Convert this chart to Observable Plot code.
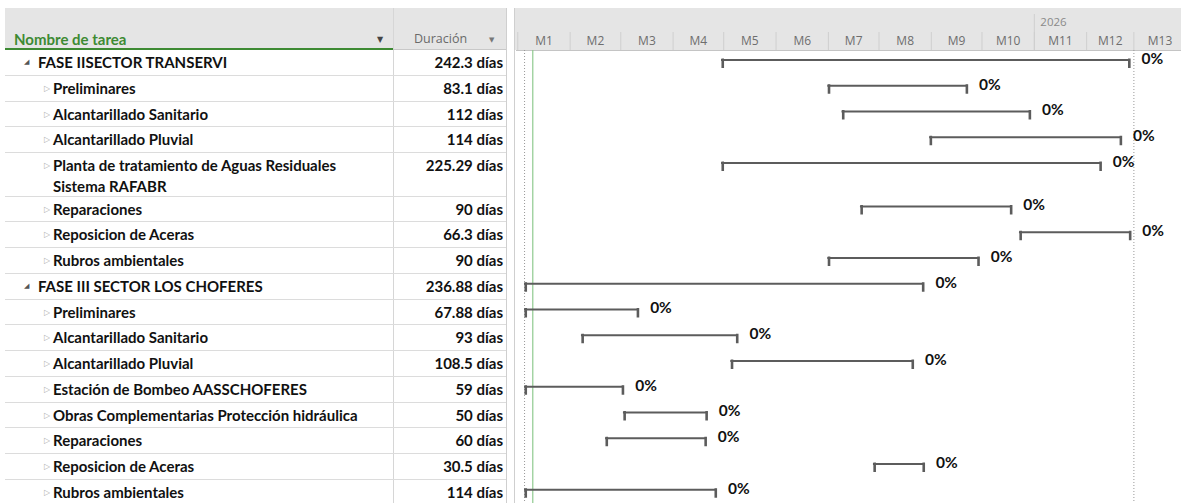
<!DOCTYPE html>
<html><head><meta charset="utf-8">
<script src="https://cdn.jsdelivr.net/npm/d3@7"></script>
<script src="https://cdn.jsdelivr.net/npm/@observablehq/plot@0.6"></script>
<style>
body{margin:0;background:#fff;}
#wrap{position:relative;width:1181px;height:503px;overflow:hidden;font-family:Lato,"Open Sans",sans-serif;}
.abs{position:absolute;white-space:nowrap;}
.row{position:absolute;left:5px;width:501px;box-sizing:border-box;border-bottom:1px solid #dcdcdc;}
.nm{position:absolute;font-weight:700;font-size:15px;color:#111;line-height:21px;top:2px;white-space:pre;}
.ic0{position:absolute;left:19px;top:2px;font-family:"DejaVu Sans";font-size:7px;line-height:21px;color:#555;}
.ic1{position:absolute;left:39px;top:2px;font-family:"DejaVu Sans";font-size:8px;line-height:21px;color:#b0b0b0;}
.du{position:absolute;right:3px;top:2px;font-weight:700;font-size:15px;line-height:21px;color:#111;}
#gantt{position:absolute;left:516px;top:0;}
</style></head><body><div id="wrap"></div>
<script>
// ---- data ----
const names = [
  "FASE IISECTOR TRANSERVI",
  "Preliminares",
  "Alcantarillado Sanitario",
  "Alcantarillado Pluvial",
  "Planta de tratamiento de Aguas Residuales\nSistema RAFABR",
  "Reparaciones",
  "Reposicion de Aceras",
  "Rubros ambientales",
  "FASE III SECTOR LOS CHOFERES",
  "Preliminares",
  "Alcantarillado Sanitario",
  "Alcantarillado Pluvial",
  "Estación de Bombeo AASSCHOFERES",
  "Obras Complementarias Protección hidráulica",
  "Reparaciones",
  "Reposicion de Aceras",
  "Rubros ambientales"
];
const levels = [0,1,1,1,1,1,1,1,0,1,1,1,1,1,1,1,1];
const durations = [242.3, 83.1, 112, 114, 225.29, 90, 66.3, 90, 236.88, 67.88, 93, 108.5, 59, 50, 60, 30.5, 114];
const starts = [
  "2025-06-29T17:00Z", "2025-08-31T16:00Z", "2025-09-09T02:00Z", "2025-10-31T00:00Z",
  "2025-06-29T17:00Z", "2025-09-20T00:00Z", "2025-12-23T05:00Z", "2025-08-31T16:00Z",
  "2025-03-05T00:00Z", "2025-03-05T00:00Z", "2025-04-07T17:00Z", "2025-07-05T05:00Z",
  "2025-03-05T00:00Z", "2025-05-02T14:00Z", "2025-04-22T00:00Z", "2025-09-27T17:00Z",
  "2025-03-05T00:00Z"
];
const completes = [0,0,0,0,0,0,0,0,0,0,0,0,0,0,0,0,0];
const monthLabels = ["M1","M2","M3","M4","M5","M6","M7","M8","M9","M10","M11","M12","M13"];
const monthStarts = ["2025-03-01","2025-04-01","2025-05-01","2025-06-01","2025-07-01","2025-08-01","2025-09-01","2025-10-01","2025-11-01","2025-12-01","2026-01-01","2026-02-01","2026-03-01","2026-04-01"];
const yearLabels = ["2026"];
const yearStarts = ["2026-01-01"];
const viewStart = "2025-02-28T05:30Z";
const viewEnd = "2026-03-29T05:00Z";
const projectStart = "2025-03-05T00:00Z";
const statusDate = "2025-03-09T21:00Z";
const finishLine = "2026-03-01T00:00Z";
const headerTitles = ["Nombre de tarea", "Duración"];

// ---- layout ----
const ROW_H = 25.75, HEAD = 50, WRAP_H = 43.5;
const DAY = 864e5;
let acc = 0;
const tasks = names.map((n, i) => {
  const lines = n.split("\n").length;
  const h = lines > 1 ? WRAP_H : ROW_H;
  const top = acc; acc += h;
  const start = new Date(starts[i]);
  return {
    name: n, level: levels[i], dur: durations[i], pct: completes[i],
    start, end: new Date(+start + durations[i] * DAY),
    topPx: top, hPx: h,
    barY: (top + 9.5) / ROW_H,
    tickY1: (top + 8.5) / ROW_H,
    tickY2: (top + 18) / ROW_H
  };
});

const wrap = d3.select("#wrap");
// header backgrounds
wrap.append("div").attr("class","abs").style("left","5px").style("top","8px").style("width","1176px").style("height","42px").style("background","#e5e5e5");
wrap.append("div").attr("class","abs").style("left","506px").style("top","8px").style("width","7px").style("height","495px").style("background","#fff")
  .style("border-left","1px solid #cfcfcf").style("border-right","1px solid #cfcfcf");
// column separator
wrap.append("div").attr("class","abs").style("left","393px").style("top","8px").style("width","0").style("height","495px").style("border-left","1px solid #d6d6d6");
// header text
wrap.append("div").attr("class","abs").style("left","14px").style("top","30px").style("font-size","15px").style("font-weight","700").style("color","#3d8a33").style("line-height","18px").text(headerTitles[0]);
wrap.append("div").attr("class","abs").style("left","377px").style("top","35px").style("font-family","DejaVu Sans").style("font-size","8px").style("color","#444").text("▼");
wrap.append("div").attr("class","abs").style("left","414px").style("top","30px").style("font-family","'Open Sans'").style("font-size","12.5px").style("color","#6a6a6a").style("line-height","18px").text(headerTitles[1]);
wrap.append("div").attr("class","abs").style("left","489px").style("top","36px").style("font-family","DejaVu Sans").style("font-size","7px").style("color","#777").text("▼");
wrap.append("div").attr("class","abs").style("left","5px").style("top","48px").style("width","388px").style("height","2px").style("background","#3d8a33");
wrap.append("div").attr("class","abs").style("left","393px").style("top","49px").style("width","113px").style("height","1px").style("background","#c8c8c8");

// rows
const rows = wrap.selectAll("div.row").data(tasks).join("div").attr("class","row")
  .style("top", d => (HEAD + d.topPx) + "px").style("height", d => d.hPx + "px");
rows.append("span").attr("class", d => d.level ? "ic1" : "ic0").text(d => d.level ? "▷" : "◢");
rows.append("span").attr("class","nm").style("left", d => d.level ? "48px" : "33px").text(d => d.name);
rows.append("span").attr("class","du").text(d => `${d.dur} días`);

// ---- gantt ----
const ms = monthStarts.map(d => new Date(d + "T00:00Z"));
const monthMids = monthLabels.map((l, i) => ({date: new Date((+ms[i] + +ms[i+1]) / 2), label: l}));
const ys = yearStarts.map((d, i) => ({date: new Date(d + "T00:00Z"), label: yearLabels[i]}));

const chart = Plot.plot({
  width: 665, height: 503,
  marginLeft: 0, marginRight: 0, marginTop: HEAD, marginBottom: 0,
  x: {type: "utc", domain: [new Date(viewStart), new Date(viewEnd)], axis: null},
  y: {domain: [0, (503 - HEAD) / ROW_H], reverse: true, axis: null},
  style: {background: "transparent", fontFamily: "Lato, sans-serif", overflow: "visible"},
  marks: [
    Plot.ruleX(ms.slice(0, 13), {x: d => d, y1: -18 / ROW_H, y2: 0, stroke: "#cfcfcf", clip: false}),
    Plot.ruleX(ys, {x: "date", y1: -36 / ROW_H, y2: 0, stroke: "#cfcfcf", clip: false}),
    Plot.text(monthMids, {x: "date", text: "label", frameAnchor: "top", dy: -14, fontSize: 12,
      fill: "#6e6e6e", fontFamily: "'Open Sans'"}),
    Plot.text(ys, {x: "date", text: "label", frameAnchor: "top", dy: -33, dx: 6,
      textAnchor: "start", fill: "#8a8a8a", fontSize: 11.5, fontFamily: "'Open Sans'"}),
    Plot.ruleY([0], {stroke: "#c4c4c4"}),
    Plot.ruleX([new Date(projectStart)], {stroke: "#999", strokeDasharray: "1,2"}),
    Plot.ruleX([new Date(finishLine)], {stroke: "#999", strokeDasharray: "1,2"}),
    Plot.ruleX([new Date(statusDate)], {stroke: "#8fca8f", strokeWidth: 1.2}),
    Plot.ruleY(tasks, {x1: "start", x2: "end", y: "barY", stroke: "#5c5c5c", strokeWidth: 2.2}),
    Plot.ruleX(tasks, {x: "start", y1: "tickY1", y2: "tickY2", stroke: "#5c5c5c", strokeWidth: 2.6, dx: 1.2}),
    Plot.ruleX(tasks, {x: "end", y1: "tickY1", y2: "tickY2", stroke: "#5c5c5c", strokeWidth: 2.6, dx: -1.2}),
    Plot.text(tasks, {x: "end", y: "barY", text: d => `${d.pct}%`, dx: 11, dy: -1, textAnchor: "start",
      fontWeight: "bold", fontSize: 15.5, fill: "#111"})
  ]
});
chart.id = "gantt";
document.getElementById("wrap").appendChild(chart);
</script>
</body></html>
